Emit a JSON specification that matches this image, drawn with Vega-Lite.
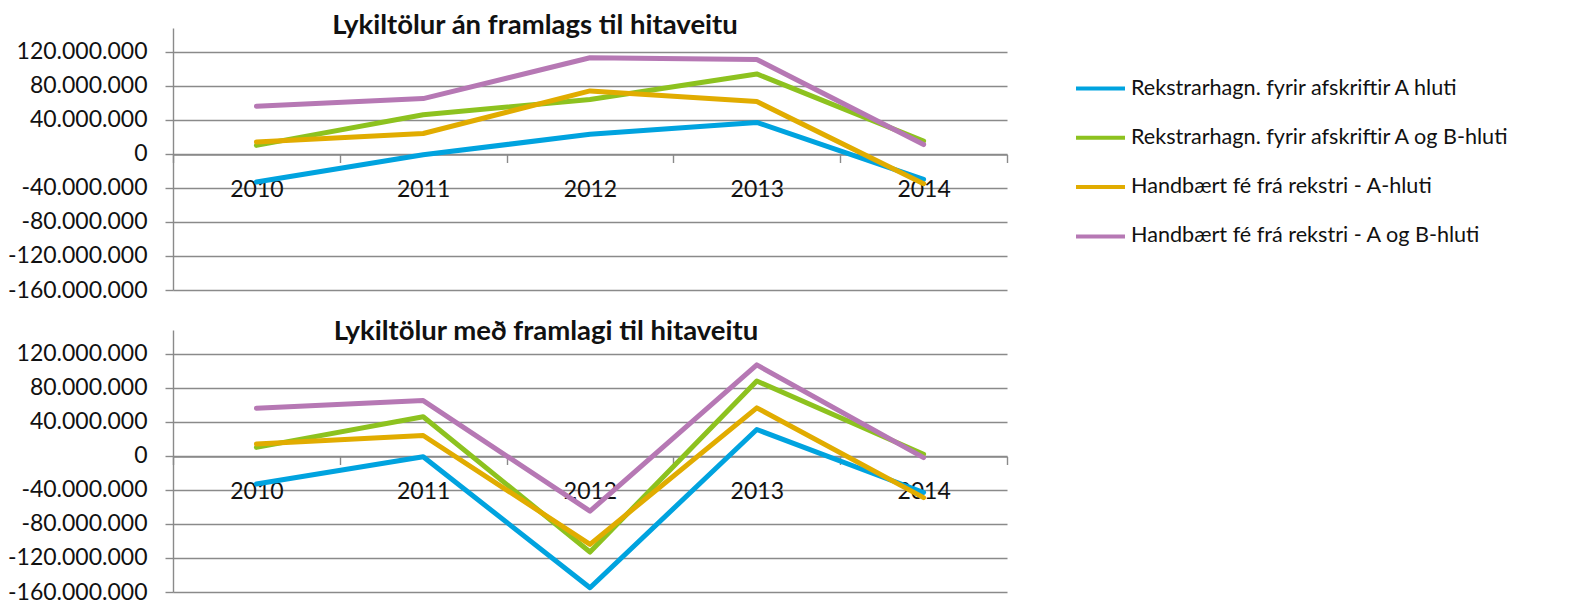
{
  "$schema": "https://vega.github.io/schema/vega-lite/v6.json",
  "background": "white",
  "padding": {"left": 7, "top": 11, "right": 5, "bottom": 0},
  "config": {
    "locale": {"number": {"decimal": ",", "thousands": ".", "grouping": [3], "currency": ["", ""], "minus": "-"}},
    "font": "Lato",
    "view": {"stroke": null},
    "axis": {"labelFont": "Lato", "labelFontSize": 23, "labelColor": "#111111", "domainColor": "#8a8a8a", "tickColor": "#8a8a8a", "gridColor": "#8a8a8a", "domainWidth": 1.4, "tickWidth": 1.4, "gridWidth": 1.4, "tickSize": 8, "title": null},
    "title": {"font": "Lato", "fontSize": 27.5, "fontWeight": "bold", "color": "#111111", "anchor": "middle", "frame": "group", "baseline": "alphabetic"},
    "legend": {"labelFont": "Lato", "labelFontSize": 21.6, "labelColor": "#111111", "padding": 0, "labelLimit": 0}
  },
  "data": {"values": [
    {"panel": "an", "year": "2010", "series": "Rekstrarhagn. fyrir afskriftir A hluti", "value": -33000000},
    {"panel": "an", "year": "2011", "series": "Rekstrarhagn. fyrir afskriftir A hluti", "value": -1000000},
    {"panel": "an", "year": "2012", "series": "Rekstrarhagn. fyrir afskriftir A hluti", "value": 23000000},
    {"panel": "an", "year": "2013", "series": "Rekstrarhagn. fyrir afskriftir A hluti", "value": 37000000},
    {"panel": "an", "year": "2014", "series": "Rekstrarhagn. fyrir afskriftir A hluti", "value": -30000000},
    {"panel": "an", "year": "2010", "series": "Rekstrarhagn. fyrir afskriftir A og B-hluti", "value": 10000000},
    {"panel": "an", "year": "2011", "series": "Rekstrarhagn. fyrir afskriftir A og B-hluti", "value": 46000000},
    {"panel": "an", "year": "2012", "series": "Rekstrarhagn. fyrir afskriftir A og B-hluti", "value": 64000000},
    {"panel": "an", "year": "2013", "series": "Rekstrarhagn. fyrir afskriftir A og B-hluti", "value": 94000000},
    {"panel": "an", "year": "2014", "series": "Rekstrarhagn. fyrir afskriftir A og B-hluti", "value": 15000000},
    {"panel": "an", "year": "2010", "series": "Handbært fé frá rekstri - A-hluti", "value": 14000000},
    {"panel": "an", "year": "2011", "series": "Handbært fé frá rekstri - A-hluti", "value": 24000000},
    {"panel": "an", "year": "2012", "series": "Handbært fé frá rekstri - A-hluti", "value": 74000000},
    {"panel": "an", "year": "2013", "series": "Handbært fé frá rekstri - A-hluti", "value": 61500000},
    {"panel": "an", "year": "2014", "series": "Handbært fé frá rekstri - A-hluti", "value": -35000000},
    {"panel": "an", "year": "2010", "series": "Handbært fé frá rekstri - A og B-hluti", "value": 56000000},
    {"panel": "an", "year": "2011", "series": "Handbært fé frá rekstri - A og B-hluti", "value": 65000000},
    {"panel": "an", "year": "2012", "series": "Handbært fé frá rekstri - A og B-hluti", "value": 113000000},
    {"panel": "an", "year": "2013", "series": "Handbært fé frá rekstri - A og B-hluti", "value": 111000000},
    {"panel": "an", "year": "2014", "series": "Handbært fé frá rekstri - A og B-hluti", "value": 11000000},
    {"panel": "med", "year": "2010", "series": "Rekstrarhagn. fyrir afskriftir A hluti", "value": -33000000},
    {"panel": "med", "year": "2011", "series": "Rekstrarhagn. fyrir afskriftir A hluti", "value": -1000000},
    {"panel": "med", "year": "2012", "series": "Rekstrarhagn. fyrir afskriftir A hluti", "value": -155000000},
    {"panel": "med", "year": "2013", "series": "Rekstrarhagn. fyrir afskriftir A hluti", "value": 31000000},
    {"panel": "med", "year": "2014", "series": "Rekstrarhagn. fyrir afskriftir A hluti", "value": -43000000},
    {"panel": "med", "year": "2010", "series": "Rekstrarhagn. fyrir afskriftir A og B-hluti", "value": 10000000},
    {"panel": "med", "year": "2011", "series": "Rekstrarhagn. fyrir afskriftir A og B-hluti", "value": 46000000},
    {"panel": "med", "year": "2012", "series": "Rekstrarhagn. fyrir afskriftir A og B-hluti", "value": -113000000},
    {"panel": "med", "year": "2013", "series": "Rekstrarhagn. fyrir afskriftir A og B-hluti", "value": 88000000},
    {"panel": "med", "year": "2014", "series": "Rekstrarhagn. fyrir afskriftir A og B-hluti", "value": 2000000},
    {"panel": "med", "year": "2010", "series": "Handbært fé frá rekstri - A-hluti", "value": 14000000},
    {"panel": "med", "year": "2011", "series": "Handbært fé frá rekstri - A-hluti", "value": 24000000},
    {"panel": "med", "year": "2012", "series": "Handbært fé frá rekstri - A-hluti", "value": -104000000},
    {"panel": "med", "year": "2013", "series": "Handbært fé frá rekstri - A-hluti", "value": 56500000},
    {"panel": "med", "year": "2014", "series": "Handbært fé frá rekstri - A-hluti", "value": -49000000},
    {"panel": "med", "year": "2010", "series": "Handbært fé frá rekstri - A og B-hluti", "value": 56000000},
    {"panel": "med", "year": "2011", "series": "Handbært fé frá rekstri - A og B-hluti", "value": 65000000},
    {"panel": "med", "year": "2012", "series": "Handbært fé frá rekstri - A og B-hluti", "value": -65000000},
    {"panel": "med", "year": "2013", "series": "Handbært fé frá rekstri - A og B-hluti", "value": 107000000},
    {"panel": "med", "year": "2014", "series": "Handbært fé frá rekstri - A og B-hluti", "value": -2000000}
  ]},
  "bounds": "flush",
  "spacing": 40,
  "vconcat": [
    {
      "width": 834, "height": 262,
      "title": {"text": "Lykiltölur án framlags til hitaveitu", "offset": -11, "dx": -55},
      "transform": [{"filter": "datum.panel === 'an'"}],
      "mark": {"type": "line", "strokeWidth": 5, "strokeJoin": "round", "strokeCap": "round"},
      "encoding": {
        "x": {"field": "year", "type": "ordinal", "scale": {"type": "band", "paddingInner": 0, "paddingOuter": 0},
              "axis": {"labelAngle": 0, "tickBand": "extent", "offset": -135.5, "labelPadding": 16, "grid": false}},
        "y": {"field": "value", "type": "quantitative", "scale": {"domain": [-160000000, 148000000], "nice": false, "zero": false},
              "axis": {"values": [-160000000, -120000000, -80000000, -40000000, 0, 40000000, 80000000, 120000000], "format": ",.0f", "labelPadding": 18}},
        "color": {"field": "series", "type": "nominal",
                  "scale": {"domain": ["Rekstrarhagn. fyrir afskriftir A hluti", "Rekstrarhagn. fyrir afskriftir A og B-hluti", "Handbært fé frá rekstri - A-hluti", "Handbært fé frá rekstri - A og B-hluti"],
                            "range": ["#00A3DF", "#8DC21F", "#E1AC00", "#B678B4"]},
                  "legend": {"title": null, "orient": "none", "legendX": 901, "legendY": 34, "symbolType": "stroke", "symbolSize": 2401, "symbolStrokeWidth": 4, "labelOffset": 4, "rowPadding": 11.3}}
      }
    },
    {
      "width": 834, "height": 262,
      "title": {"text": "Lykiltölur með framlagi til hitaveitu", "offset": -15, "dx": -44},
      "transform": [{"filter": "datum.panel === 'med'"}],
      "mark": {"type": "line", "strokeWidth": 5, "strokeJoin": "round", "strokeCap": "round"},
      "encoding": {
        "x": {"field": "year", "type": "ordinal", "scale": {"type": "band", "paddingInner": 0, "paddingOuter": 0},
              "axis": {"labelAngle": 0, "tickBand": "extent", "offset": -135.5, "labelPadding": 16, "grid": false}},
        "y": {"field": "value", "type": "quantitative", "scale": {"domain": [-160000000, 148000000], "nice": false, "zero": false},
              "axis": {"values": [-160000000, -120000000, -80000000, -40000000, 0, 40000000, 80000000, 120000000], "format": ",.0f", "labelPadding": 18}},
        "color": {"field": "series", "type": "nominal"}
      }
    }
  ]
}
